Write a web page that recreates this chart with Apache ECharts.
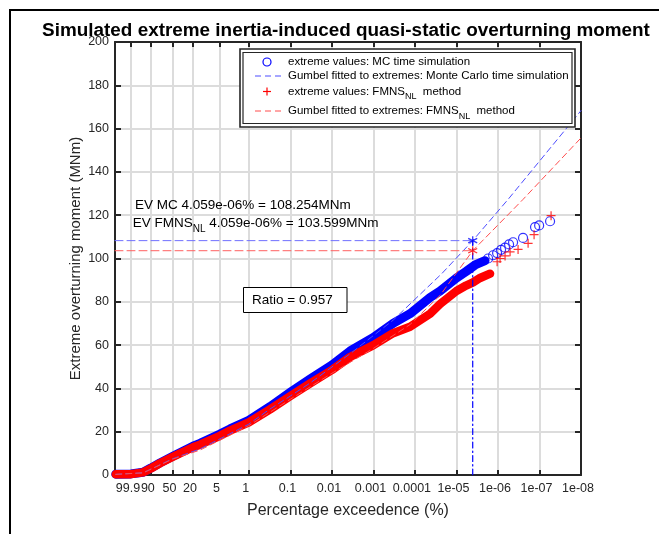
<!DOCTYPE html>
<html><head><meta charset="utf-8">
<script src="https://cdn.jsdelivr.net/npm/echarts@6/dist/echarts.min.js"></script>
<style>html,body{margin:0;padding:0;background:#fff}#c{width:659px;height:534px}</style>
</head><body><div id="c"></div>
<script>
// ---- data (x = percentage exceedence, y = extreme overturning moment, MNm) ----
const tickPercents = [99.9, 90, 50, 20, 5, 1, 0.1, 0.01, 0.001, 0.0001, 1e-5, 1e-6, 1e-7, 1e-8];
const tickLabels = ['99.9','90','50','20','5','1','0.1','0.01','0.001','0.0001','1e-05','1e-06','1e-07','1e-08'];
const leftEdgePercent = 99.999995;
const rightEdgePercent = 1e-8;

const mcBandPct = [99.99999, 99.9, 97.1, 90, 75, 50, 20, 14, 5, 2.81, 1, 0.309, 0.1, 0.0335, 0.01, 0.00365, 0.001, 3.36e-4, 1.31e-4, 4.32e-5, 2.48e-5, 1e-5, 5.87e-6, 3.56e-6, 2.05e-6];
const mcBandVal = [0.4, 0.5, 1.3, 3.2, 5.6, 8.6, 13.3, 14.6, 18.8, 21.3, 25.3, 31.6, 38.2, 44.3, 50.8, 57.3, 63.5, 70, 74.5, 82, 85, 91, 94, 97, 99];
const fmBandPct = [99.99999, 99.9, 97.1, 90, 75, 50, 20, 14, 5, 2.81, 1, 0.309, 0.1, 0.0335, 0.01, 0.00365, 0.001, 3.36e-4, 1.31e-4, 4.32e-5, 2.48e-5, 1e-5, 5.87e-6, 3.98e-6, 2.7e-6, 1.55e-6];
const fmBandVal = [0.4, 0.4, 1.2, 3.0, 5.4, 8.3, 12.8, 14.0, 18.0, 20.5, 24.3, 30.3, 36.5, 42.3, 48.5, 54.5, 60, 65.5, 68.5, 74.5, 79, 85, 87.5, 89, 91, 93];

const mcTailPct = [1.73e-6, 1.31e-6, 1.05e-6, 8.42e-7, 6.75e-7, 5.4e-7, 4.33e-7, 2.49e-7, 1.28e-7, 1.02e-7, 5.56e-8];
const mcTailVal = [100, 101.5, 102.5, 104, 105, 106.5, 107.5, 109.5, 114.5, 115.3, 117.2];
const fmTailPct = [1.05e-6, 8.9e-7, 6.75e-7, 5.11e-7, 3.28e-7, 1.88e-7, 1.35e-7, 5.26e-8];
const fmTailVal = [98.5, 100, 101.2, 103.1, 104.2, 107, 111, 119.8];

const mcFitPct = [99.99999, 97.1, 50, 14, 1, 0.309, 0.1, 0.0335, 0.00365, 3.36e-4, 2.26e-5, 4.059e-6, 5.71e-7, 1e-8];
const mcFitVal = [0.3, 1.0, 7.5, 12, 23.5, 30.5, 36.5, 42.5, 56, 71.5, 93, 108.254, 127.3, 168.3];
const fmFitPct = [99.99999, 97.1, 50, 14, 1, 0.1, 0.01, 0.001, 1.31e-4, 2.48e-5, 4.059e-6, 2.49e-7, 1e-8];
const fmFitVal = [0.3, 1.0, 7.3, 11.5, 22.8, 35, 47, 58.5, 69.5, 83, 103.599, 127.3, 155.7];

const designPct = 4.059e-6;
const mcDesign = 108.254;
const fmDesign = 103.599;
const ratioValue = 0.957;

// ---- Gumbel probability scale ----
function gu(p) { return -Math.log(-Math.log1p(-p / 100)); }
const pts = (ps, vs) => ps.map((p, i) => [gu(p), vs[i]]);
const tickU = tickPercents.map(gu);
const uMin = gu(leftEdgePercent), uMax = gu(rightEdgePercent);
const uDesign = gu(designPct);

const FONT = '"Liberation Sans", Arial, Helvetica, sans-serif';
const AX = '#262626';
const BLUE = '#0000ff', RED = '#ff0000';
const ctx = document.createElement('canvas').getContext('2d');
function tw(t, s) { ctx.font = s + 'px ' + FONT; return ctx.measureText(t).width; }

const plusPath = 'path://M5,0L5,10M0,5L10,5';
const starPath = 'path://M5,0L5,10M0.67,2.5L9.33,7.5M0.67,7.5L9.33,2.5';

function labelFor(v) {
  for (let i = 0; i < tickU.length; i++) if (Math.abs(tickU[i] - v) < 1e-6) return tickLabels[i];
  return '';
}

const chart = echarts.init(document.getElementById('c'), null, { renderer: 'canvas' });

// graphic elements: frame, legend, annotations
const g = [];
g.push({ type: 'polyline', shape: { points: [[10, 540], [10, 10], [670, 10]] }, style: { stroke: '#000', lineWidth: 2, fill: null }, z: 100 });
// legend
const LX = 288, LFS = 11.5;
g.push({ type: 'rect', shape: { x: 240, y: 49, width: 335, height: 78 }, style: { fill: '#fff', stroke: AX, lineWidth: 1.6 }, z: 100 });
g.push({ type: 'rect', shape: { x: 243, y: 52.5, width: 329, height: 71 }, style: { fill: '#fff', stroke: AX, lineWidth: 1.2 }, z: 100 });
const rows = [62, 76, 91.5, 111];
g.push({ type: 'circle', shape: { cx: 267, cy: rows[0], r: 4 }, style: { fill: null, stroke: BLUE, lineWidth: 1.2 }, z: 101 });
g.push({ type: 'line', shape: { x1: 255, y1: rows[1], x2: 284, y2: rows[1] }, style: { stroke: '#4d4dff', lineWidth: 1, lineDash: [6, 4] }, z: 101 });
g.push({ type: 'polyline', shape: { points: [[267, rows[2] - 4], [267, rows[2] + 4]] }, style: { stroke: RED, lineWidth: 1.2, fill: null }, z: 101 });
g.push({ type: 'polyline', shape: { points: [[263, rows[2]], [271, rows[2]]] }, style: { stroke: RED, lineWidth: 1.2, fill: null }, z: 101 });
g.push({ type: 'line', shape: { x1: 255, y1: rows[3], x2: 284, y2: rows[3] }, style: { stroke: '#ff4d4d', lineWidth: 1, lineDash: [6, 4] }, z: 101 });
function txt(x, y, t, s, extra) {
  g.push({ type: 'text', x: x, y: y, style: Object.assign({ text: t, fontSize: s, fontFamily: FONT, fill: '#000', verticalAlign: 'middle', align: 'left' }, extra || {}), z: 102 });
}
txt(LX, rows[0], 'extreme values: MC time simulation', LFS);
txt(LX, rows[1], 'Gumbel fitted to extremes: Monte Carlo time simulation', LFS);
function subLine(x, y, pre, sub, post, s, ss, dy) {
  txt(x, y, pre, s);
  const w1 = tw(pre, s);
  txt(x + w1, y + dy, sub, ss);
  const w2 = tw(sub, ss);
  txt(x + w1 + w2, y, post, s);
}
subLine(LX, rows[2], 'extreme values: FMNS', 'NL', '  method', LFS, 9, 5.5);
subLine(LX, rows[3], 'Gumbel fitted to extremes: FMNS', 'NL', '  method', LFS, 9, 5.5);
// annotations
const pctText = designPct.toExponential(3).replace('e-6', 'e-06');
txt(135, 205, 'EV MC ' + pctText + '% = ' + mcDesign.toFixed(3) + 'MNm', 13.5);
subLine(132.7, 223, 'EV FMNS', 'NL', ' ' + pctText + '% = ' + fmDesign.toFixed(3) + 'MNm', 13.5, 10, 6.5);
g.push({ type: 'rect', shape: { x: 243.5, y: 287.5, width: 103.5, height: 25 }, style: { fill: '#fff', stroke: '#000', lineWidth: 1 }, z: 100 });
txt(252, 300.5, 'Ratio = ' + ratioValue.toFixed(3), 13.5);

const lineS = (name, data, color, width, dash, z) => ({
  name, type: 'line', data, xAxisIndex: 0, yAxisIndex: 0, symbol: 'none', silent: true, z: z,
  lineStyle: { color, width, type: dash || 'solid', cap: 'round', join: 'round' }
});

const option = {
  animation: false,
  backgroundColor: '#fff',
  title: {
    text: 'Simulated extreme inertia-induced quasi-static overturning moment',
    left: 341, top: 16, textAlign: 'center',
    textStyle: { fontFamily: FONT, fontSize: 18.9, fontWeight: 'bold', color: '#000' }
  },
  grid: { left: 115, top: 42, width: 466, height: 433, containLabel: false },
  xAxis: [{
    type: 'value', min: uMin, max: uMax, position: 'bottom',
    name: 'Percentage exceedence (%)', nameLocation: 'middle', nameGap: 28, nameMoveOverlap: false,
    nameTextStyle: { fontFamily: FONT, fontSize: 16, color: AX },
    axisLine: { show: true, onZero: false, lineStyle: { color: AX, width: 2 } },
    axisTick: { show: true, inside: true, length: 5, customValues: tickU, lineStyle: { color: AX, width: 2 } },
    axisLabel: { show: true, customValues: tickU, formatter: labelFor, color: AX, fontFamily: FONT, fontSize: 12.5, margin: 7, padding: [0, 6, 0, 0], hideOverlap: false },
    splitLine: { show: true, lineStyle: { color: '#dcdcdc', width: 2 } }
  }, {
    type: 'value', min: uMin, max: uMax, position: 'top',
    axisLine: { show: true, onZero: false, lineStyle: { color: AX, width: 2 } },
    axisTick: { show: true, inside: true, length: 5, customValues: tickU, lineStyle: { color: AX, width: 2 } },
    axisLabel: { show: false }, splitLine: { show: false }
  }],
  yAxis: [{
    type: 'value', min: 0, max: 200, interval: 20, position: 'left',
    name: 'Extreme overturning moment (MNm)', nameLocation: 'middle', nameGap: 32, nameRotate: 90, nameMoveOverlap: false,
    nameTextStyle: { fontFamily: FONT, fontSize: 15, color: AX },
    axisLine: { show: true, onZero: false, lineStyle: { color: AX, width: 2 } },
    axisTick: { show: true, inside: true, length: 6, lineStyle: { color: AX, width: 2 } },
    axisLabel: { color: AX, fontFamily: FONT, fontSize: 12.5, margin: 6 },
    splitLine: { show: true, lineStyle: { color: '#dcdcdc', width: 2 } }
  }, {
    type: 'value', min: 0, max: 200, interval: 20, position: 'right',
    axisLine: { show: true, onZero: false, lineStyle: { color: AX, width: 2 } },
    axisTick: { show: true, inside: true, length: 6, lineStyle: { color: AX, width: 2 } },
    axisLabel: { show: false }, splitLine: { show: false }
  }],
  series: [
    lineS('extreme values: MC time simulation', pts(mcBandPct, mcBandVal), BLUE, 9, 'solid', 2),
    lineS('extreme values: FMNS_NL method', pts(fmBandPct, fmBandVal), RED, 8.5, 'solid', 3),
    { name: 'MC tail', type: 'scatter', data: pts(mcTailPct, mcTailVal), symbol: 'circle', symbolSize: 9, silent: true, z: 4,
      itemStyle: { color: 'rgba(0,0,0,0)', borderColor: BLUE, borderWidth: 1.2 } },
    { name: 'FMNS tail', type: 'scatter', data: pts(fmTailPct, fmTailVal), symbol: plusPath, symbolSize: 9, silent: true, z: 4,
      itemStyle: { color: 'rgba(0,0,0,0)', borderColor: RED, borderWidth: 1.2 } },
    lineS('Gumbel fitted to extremes: Monte Carlo time simulation', pts(mcFitPct, mcFitVal), '#4d4dff', 1, [6, 4], 5),
    lineS('Gumbel fitted to extremes: FMNS_NL method', pts(fmFitPct, fmFitVal), '#ff4d4d', 1, [6, 4], 5),
    lineS('EV MC level', [[uMin, mcDesign], [uDesign, mcDesign]], '#6f6fff', 1, [8, 4], 6),
    lineS('EV FMNS level', [[uMin, fmDesign], [uDesign, fmDesign]], '#ff6060', 1, [8, 4], 6),
    lineS('design exceedence', [[uDesign, 0], [uDesign, mcDesign]], BLUE, 1.2, [6, 3, 1.5, 3], 6),
    { name: 'EV points', type: 'scatter', symbol: starPath, symbolSize: 9, silent: true, z: 7,
      data: [{ value: [uDesign, mcDesign], itemStyle: { borderColor: BLUE } }, { value: [uDesign, fmDesign], itemStyle: { borderColor: RED } }],
      itemStyle: { color: 'rgba(0,0,0,0)', borderWidth: 1.3 } }
  ],
  graphic: g
};
chart.setOption(option);
</script>
</body></html>
